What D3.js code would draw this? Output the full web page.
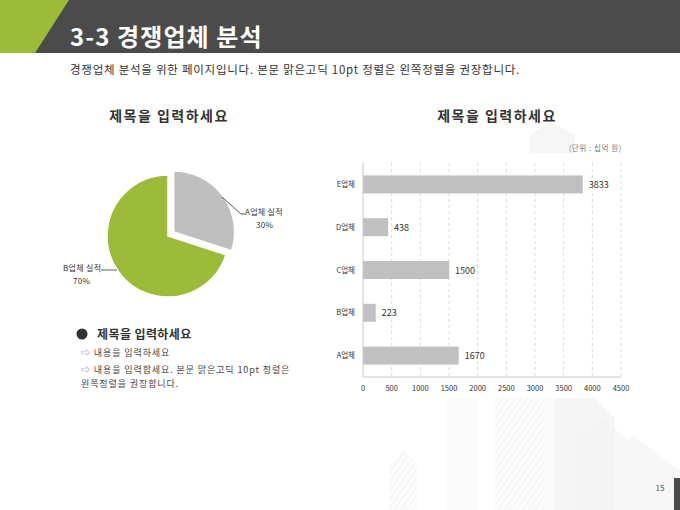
<!DOCTYPE html>
<html><head><meta charset="utf-8">
<script src="https://cdn.jsdelivr.net/npm/d3@7/dist/d3.min.js"></script>
<style>
html,body{margin:0;padding:0;background:#fff;}
svg{display:block;font-family:"Noto Sans CJK KR","Noto Sans",sans-serif;}
</style></head>
<body>
<svg id="c" width="680" height="510"></svg>
<script>
const pieLabels = ["A업체 실적", "B업체 실적"];
const pieValues = [30, 70];
const pieColors = ["#bfbfbf", "#9cbb38"];
const barCategories = ["E업체", "D업체", "C업체", "B업체", "A업체"];
const barValues = [3833, 438, 1500, 223, 1670];
const xTicks = [0, 500, 1000, 1500, 2000, 2500, 3000, 3500, 4000, 4500];

const svg = d3.select("#c");

// background decorations (faint buildings)
const defs = svg.append("defs");
const pat = defs.append("pattern").attr("id","hatch").attr("width",5).attr("height",5)
  .attr("patternUnits","userSpaceOnUse").attr("patternTransform","rotate(35)");
pat.append("rect").attr("width",5).attr("height",5).attr("fill","#fcfcfc");
pat.append("line").attr("x1",0).attr("y1",0).attr("x2",0).attr("y2",5).attr("stroke","#eeeeee").attr("stroke-width",1.6);
const bg = svg.append("g");
bg.append("path").attr("d","M389,510 L389,465 L403,450 L417,465 L417,510 Z").attr("fill","url(#hatch)");
bg.append("rect").attr("x",447).attr("y",398).attr("width",30).attr("height",112).attr("fill","#fbfbfb");
bg.append("rect").attr("x",495).attr("y",398).attr("width",50).attr("height",112).attr("fill","url(#hatch)");
bg.append("rect").attr("x",545).attr("y",398).attr("width",10).attr("height",112).attr("fill","#fbfbfb");
bg.append("path").attr("d","M555,510 L555,398 L595,398 L615,418 L615,510 Z").attr("fill","#f5f5f5");
bg.append("path").attr("d","M575,510 L575,440 L602,418 L640,450 L640,510 Z").attr("fill","#f2f2f2").attr("opacity",0.6);
bg.append("path").attr("d","M615,510 L615,455 L633,435 L665,460 L680,470 L680,510 Z").attr("fill","#f7f7f7");
bg.append("path").attr("d","M530,153 L530,135 L550,122 L575,135 L575,153 Z").attr("fill","#f6f6f6");

// header
svg.append("rect").attr("x",0).attr("y",0).attr("width",680).attr("height",53).attr("fill","#4b4b4b");
svg.append("path").attr("d","M0,0 L69,0 L35,53 L0,53 Z").attr("fill","#9cbb38");
svg.append("text").attr("x",70).attr("y",46).attr("fill","#fff").attr("font-size",24).attr("font-weight","bold")
  .attr("letter-spacing",1.1).text("3-3 경쟁업체 분석");
svg.append("text").attr("x",70).attr("y",74).attr("fill","#333").attr("font-size",11.5)
  .attr("letter-spacing",0.75)
  .text("경쟁업체 분석을 위한 페이지입니다. 본문 맑은고딕 10pt 정렬은 왼쪽정렬을 권장합니다.");

// chart titles
svg.append("text").attr("x",169).attr("y",121).attr("text-anchor","middle").attr("font-size",14)
  .attr("letter-spacing",1.5).attr("font-weight","bold").attr("fill","#333").text("제목을 입력하세요");
svg.append("text").attr("x",497).attr("y",121).attr("text-anchor","middle").attr("font-size",14)
  .attr("letter-spacing",1.5).attr("font-weight","bold").attr("fill","#333").text("제목을 입력하세요");

// pie
const cx = 168, cy = 236, r = 61;
const pie = d3.pie().sort(null).value(d => d)(pieValues);
const arc = d3.arc().innerRadius(0).outerRadius(r);
const pg = svg.append("g").attr("transform",`translate(${cx},${cy})`);
pg.selectAll("path").data(pie).join("path")
  .attr("d", arc)
  .attr("fill", (d,i) => pieColors[i])
  .attr("stroke","#fff").attr("stroke-width",1.5)
  .attr("transform", (d,i) => {
    if (i !== 0) return null;
    const a = (d.startAngle + d.endAngle)/2, off = 7;
    return `translate(${Math.sin(a)*off},${-Math.cos(a)*off})`;
  });
// leader lines and labels
const lab = svg.append("g").attr("font-size",8).attr("fill","#333").attr("letter-spacing",0.3);
svg.append("path").attr("d","M222,197 L241,214 L245,214").attr("fill","none").attr("stroke","#333").attr("stroke-width",0.8);
lab.append("text").attr("x",245).attr("y",215).text(pieLabels[0]);
lab.append("text").attr("x",256).attr("y",228).text(pieValues[0] + "%");
svg.append("path").attr("d","M101,270 L117,270").attr("fill","none").attr("stroke","#333").attr("stroke-width",0.8);
lab.append("text").attr("x",63).attr("y",271).text(pieLabels[1]);
lab.append("text").attr("x",73).attr("y",284).text(pieValues[1] + "%");

// bar chart
const x = d3.scaleLinear().domain([0,4500]).range([363,621]);
const y = d3.scaleBand().domain(barCategories).range([163,377]).paddingInner(0.58).paddingOuter(0.29);
const bgp = svg.append("g");
bgp.selectAll("line.grid").data(xTicks.slice(1)).join("line").attr("class","grid")
  .attr("x1",d=>x(d)).attr("x2",d=>x(d)).attr("y1",163).attr("y2",377)
  .attr("stroke","#cfcfcf").attr("stroke-width",0.8).attr("stroke-dasharray","3,3");
bgp.selectAll("rect").data(barValues).join("rect")
  .attr("x", x(0)).attr("y",(d,i)=>y(barCategories[i]))
  .attr("width", d => x(d)-x(0)).attr("height", y.bandwidth()).attr("fill","#c0c0c0");
bgp.append("line").attr("x1",363).attr("x2",363).attr("y1",163).attr("y2",377).attr("stroke","#c8c8c8");
bgp.append("line").attr("x1",363).attr("x2",621).attr("y1",377).attr("y2",377).attr("stroke","#c8c8c8");
bgp.selectAll("text.val").data(barValues).join("text").attr("class","val")
  .attr("x", d => x(d)+6).attr("y",(d,i)=>y(barCategories[i])+y.bandwidth()/2+3.5)
  .attr("font-size",9).attr("fill","#333").text(d=>d);
bgp.selectAll("text.cat").data(barCategories).join("text").attr("class","cat")
  .attr("x",355).attr("y",d=>y(d)+y.bandwidth()/2+2.5).attr("text-anchor","end")
  .attr("font-size",7.5).attr("fill","#333").text(d=>d);
bgp.selectAll("text.tick").data(xTicks).join("text").attr("class","tick")
  .attr("x",d=>x(d)).attr("y",391).attr("text-anchor","middle")
  .attr("font-size",7.5).attr("fill","#333").text(d=>d);
svg.append("text").attr("x",622).attr("y",151).attr("text-anchor","end").attr("font-size",7.5)
  .attr("letter-spacing",0.6).attr("fill","#777").text("(단위 : 십억 원)");

// bottom-left text block
svg.append("circle").attr("cx",82).attr("cy",334).attr("r",5.5).attr("fill","#333");
svg.append("text").attr("x",97).attr("y",338.5).attr("font-size",12).attr("font-weight","bold").attr("fill","#333")
  .attr("letter-spacing",0.4).text("제목을 입력하세요");
const tb = svg.append("g").attr("font-size",9).attr("fill","#444").attr("letter-spacing",0.9);
tb.append("text").attr("x",81).attr("y",356).html('<tspan fill="#7a6aa8">⇨</tspan>  내용을 입력하세요');
tb.append("text").attr("x",81).attr("y",373).html('<tspan fill="#7a6aa8">⇨</tspan>  내용을 입력합세요. 본문 맑은고딕 10pt 정렬은');
tb.append("text").attr("x",81).attr("y",387).text("왼쪽정렬을 권장합니다.");

// page number
svg.append("text").attr("x",660).attr("y",491).attr("text-anchor","middle").attr("font-size",8).attr("fill","#555").text("15");
svg.append("rect").attr("x",674).attr("y",478).attr("width",6).attr("height",32).attr("fill","#4b4b4b");
</script>
</body></html>
